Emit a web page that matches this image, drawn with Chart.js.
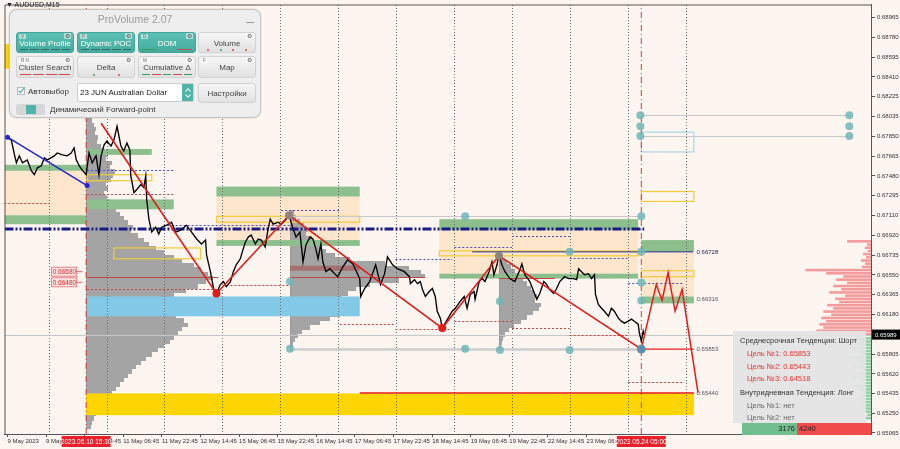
<!DOCTYPE html>
<html><head><meta charset="utf-8">
<script src="https://cdn.jsdelivr.net/npm/chart.js@4/dist/chart.umd.min.js"></script>
<style>
html,body{margin:0;padding:0;background:#fdf5f0;width:900px;height:449px;overflow:hidden;font-family:"Liberation Sans",Arial,sans-serif}
#wrap{position:relative;width:900px;height:449px}
canvas{display:block}
#sym{position:absolute;left:6px;top:1px;font-size:7px;color:#222}
#pv{position:absolute;left:9px;top:9px;width:252px;height:109px;background:#eeeeee;border:1px solid #c4c4c4;border-radius:8px;box-sizing:border-box;box-shadow:0 0 2px rgba(0,0,0,.2)}
#pvt{position:absolute;left:0;right:0;top:3px;text-align:center;font-size:10.5px;color:#9a9a9a}
#pvmin{position:absolute;left:236px;top:12px;width:8px;height:1px;background:#9a9a9a}
.b{position:absolute;width:58px;height:21px;border-radius:3px;background:linear-gradient(#f6f6f6,#e1e1e1);border:1px solid #d2d2d2;box-sizing:border-box;font-size:8px;color:#444;text-align:center}
.b.on{background:linear-gradient(#5cc0b5,#45ab9f);border-color:#43a498;color:#fff}
.b .t{position:absolute;left:0;right:0;top:6px;font-weight:normal;white-space:nowrap}
.b .k{position:absolute;left:2px;top:1px;font-size:4.5px;font-style:normal;color:#666;background:rgba(255,255,255,.55);padding:0 2px;border-radius:1px}
.b .g{position:absolute;right:2px;top:0px;font-size:5.5px;font-style:normal;color:#555;background:rgba(255,255,255,.55);padding:0 1px;border-radius:1px}
.b .d{position:absolute;left:3px;right:3px;bottom:2px;height:1px;display:flex;gap:2px}
.b .d s{flex:1;height:1px;background:#2b6f66;text-decoration:none}
.b .d s.r{background:#d04848}.b .d s.gr{background:#3c9a5a}
.b .p{position:absolute;left:3px;right:3px;bottom:1px;height:2px;display:flex;justify-content:space-around}
.b .p s{width:2px;height:2px;border-radius:1px;background:#d04848}
.b .p s.gr{background:#3c9a5a}
#chk{position:absolute;left:7px;top:77px;width:8px;height:8px;background:#fff;border:1px solid #bbb;box-sizing:border-box}
#chk:after{content:"";position:absolute;left:2px;top:-2px;width:2px;height:6px;border-right:1.3px solid #3aa79b;border-bottom:1.3px solid #3aa79b;transform:rotate(40deg)}
#auto{position:absolute;left:18px;top:77px;font-size:8px;color:#333}
#sel{position:absolute;left:67px;top:73px;width:117px;height:19px;background:#fff;border:1px solid #cfcfcf;box-sizing:border-box;border-radius:2px}
#sel span{position:absolute;left:2px;top:4px;font-size:8px;color:#222;white-space:nowrap}
#sel i{position:absolute;right:0;top:0;width:11px;height:17px;background:#4fb5aa}
#sel i:before,#sel i:after{content:"";position:absolute;left:4px;width:3px;height:3px;border-left:1px solid #fff;border-top:1px solid #fff}
#sel i:before{top:5px;transform:rotate(45deg)}
#sel i:after{top:9px;transform:rotate(225deg)}
#tog{position:absolute;left:6px;top:94px;width:29px;height:11px;border-radius:2px;background:#d6d6d6}
#tog i{position:absolute;left:10px;top:1px;width:10px;height:9px;background:#4fb5aa}
#dyn{position:absolute;left:40px;top:95px;font-size:8px;color:#333;white-space:nowrap}
#info{position:absolute;left:733px;top:331px;width:133px;height:92px;background:rgba(228,228,228,0.95)}
#info div{position:absolute;font-size:7.5px;line-height:9px;white-space:nowrap;color:#333}
#info .r{color:#e23a3a}
#info .n{color:#6a6a6a}
#gbar{position:absolute;left:742px;top:423px;width:55px;height:12px;background:#72be8e;font-size:7.5px;line-height:12px;color:#222;text-align:right;box-sizing:border-box;padding-right:2px}
#rbar{position:absolute;left:797px;top:423px;width:74px;height:12px;background:#f24b4b;font-size:7.5px;line-height:12px;color:#222;box-sizing:border-box;padding-left:2px}
</style></head><body>
<div id="wrap">
<canvas id="c" width="900" height="449"></canvas>
<div id="sym">▼ AUDUSD,M15</div>
<div id="pv">
  <div id="pvt">ProVolume 2.07</div><div id="pvmin"></div>
  <div class="b on" style="left:6px;top:22px"><i class="k">V</i><i class="g">⚙</i><b class="t">Volume Profile</b><em class="d"><s></s><s></s><s></s><s></s><s></s></em></div>
  <div class="b on" style="left:67px;top:22px"><i class="k">P</i><i class="g">⚙</i><b class="t">Dynamic POC</b><em class="d"><s></s><s></s><s></s><s></s><s></s></em></div>
  <div class="b on" style="left:128px;top:22px"><i class="k">D</i><i class="g">⚙</i><b class="t">DOM</b><em class="d"><s class="gr"></s><s style="opacity:0"></s><s class="r"></s></em></div>
  <div class="b" style="left:188px;top:22px"><i class="g">⚙</i><b class="t">Volume</b><em class="p"><s></s><s class="gr"></s><s></s><s></s></em></div>
  <div class="b" style="left:6px;top:46px;height:22px"><i class="k">R N</i><i class="g">⚙</i><b class="t">Cluster Search</b><em class="d"><s class="r"></s><s class="r"></s><s class="r"></s><s class="r"></s></em></div>
  <div class="b" style="left:67px;top:46px;height:22px"><i class="g">⚙</i><b class="t">Delta</b><em class="p"><s class="gr"></s><s></s></em></div>
  <div class="b" style="left:128px;top:46px;height:22px"><i class="k">M</i><i class="g">⚙</i><b class="t">Cumulative Δ</b><em class="d"><s class="gr"></s><s class="r"></s><s class="gr"></s><s class="r"></s><s class="gr"></s></em></div>
  <div class="b" style="left:188px;top:46px;height:22px"><i class="k">F</i><i class="g">⚙</i><b class="t">Map</b></div>
  <div id="chk"></div><div id="auto">Автовыбор</div>
  <div id="sel"><span>23 JUN Australian Dollar</span><i></i></div>
  <div class="b" style="left:188px;top:73px;height:20px"><b class="t" style="top:5px">Настройки</b></div>
  <div id="tog"><i></i></div><div id="dyn">Динамический Forward-point</div>
</div>
<div id="info">
  <div style="left:7px;top:4.5px">Среднесрочная Тенденция: Шорт</div>
  <div class="r" style="left:14px;top:17.5px">Цель №1: 0.65853</div>
  <div class="r" style="left:14px;top:30.5px">Цель №2: 0.65443</div>
  <div class="r" style="left:14px;top:42.5px">Цель №3: 0.64518</div>
  <div style="left:7px;top:56.5px">Внутридневная Тенденция: Лонг</div>
  <div class="n" style="left:14px;top:69.5px">Цель №1: нет</div>
  <div class="n" style="left:14px;top:82px">Цель №2: нет</div>
</div>
<div id="gbar">3176</div><div id="rbar">4240</div>
</div>
<script>
// ---------- axes ----------
const X_MIN = -1.24, X_MAX = 357.9;          // trading hours since 9 May 06:45
const Y_MIN = 0.65055, Y_MAX = 0.69090;
const tickHours = [0,16,32,48,64,80,96,112,128,144,160,176,192,208,224,240];
const tickLabels = ["9 May 2023","9 May 22:45","10 May 14:45","11 May 06:45","11 May 22:45","12 May 14:45","15 May 06:45","15 May 22:45","16 May 14:45","17 May 06:45","17 May 22:45","18 May 14:45","19 May 06:45","19 May 22:45","22 May 14:45","23 May 06:45"];
const gridHours = [17.25,41.25,65.25,89.25,113.25,137.25,161.25,185.25,209.25,233.25,257.25,281.25];
const priceTicks = [0.68965,0.68780,0.68595,0.68410,0.68225,0.68035,0.67850,0.67665,0.67480,0.67295,0.67110,0.66920,0.66735,0.66550,0.66365,0.66180,0.65805,0.65620,0.65435,0.65250,0.65065];
const lastPrice = 0.65989;

// ---------- price series ----------
const priceHours = [0,1.6,2.9,3.7,4.9,6.2,8.2,9.9,11.1,12.4,14.0,15.3,16.5,19.4,20.6,22.7,24.7,26.4,27.6,28.5,29.7,30.9,32.6,33.8,35.1,36.7,37.9,38.8,40.0,41.2,42.9,44.1,45.4,46.2,47.0,48.2,49.5,50.7,51.1,52.4,53.6,55.3,56.5,57.3,57.7,58.6,59.8,61.4,62.7,63.9,66.0,68.0,69.7,71.8,74.2,76.3,78.4,80.4,82.1,82.5,84.1,85.4,86.6,88.2,89.5,90.7,92.4,93.6,94.8,96.5,97.7,98.6,99.8,101.0,102.7,103.9,105.2,106.8,108.0,108.9,110.1,112.2,113.4,115.1,116.7,118.4,119.6,121.2,122.5,123.7,125.4,126.6,127.8,128.7,129.9,130.7,132.0,133.6,134.8,136.9,139.0,141.0,143.1,146.0,146.4,148.0,150.1,152.6,154.6,156.3,157.5,159.6,161.6,164.5,166.6,167.0,168.7,169.9,171.1,172.0,173.2,174.8,176.1,177.3,178.1,179.4,180.2,181.4,183.1,184.3,185.6,187.6,189.3,190.5,191.8,193.4,193.8,195.5,196.7,197.9,199.6,200.8,201.6,202.9,203.7,204.9,206.2,208.2,210.3,212.4,213.2,214.4,216.5,218.1,219.4,220.6,222.3,223.5,224.7,226.4,227.6,228.9,230.9,232.6,234.6,235.9,236.7,237.9,239.2,240.8,242.1,243.3,243.7,244.9,246.2,247.4,249.1,250.3,251.5,253.2,254.4,255.7,257.3,258.6,259.8,261.4,261.9,262.7,263.5,263.9];
const priceClose = [0.67844,0.67816,0.67677,0.67603,0.67668,0.67603,0.67630,0.67528,0.67491,0.67556,0.67575,0.67649,0.67630,0.67668,0.67695,0.67677,0.67668,0.67695,0.67742,0.67630,0.67575,0.67537,0.67491,0.67695,0.67603,0.67668,0.67491,0.67668,0.67770,0.67807,0.67761,0.67816,0.67946,0.67854,0.67761,0.67714,0.67788,0.67723,0.67482,0.67324,0.67352,0.67398,0.67370,0.67482,0.67259,0.67073,0.66952,0.66998,0.66933,0.66998,0.67017,0.67045,0.66952,0.66970,0.67017,0.66952,0.66887,0.66840,0.66877,0.66738,0.66580,0.66422,0.66375,0.66459,0.66487,0.66440,0.66487,0.66580,0.66645,0.66701,0.66794,0.66859,0.66905,0.66924,0.66840,0.66887,0.66877,0.66812,0.66980,0.67073,0.67026,0.67045,0.67026,0.67063,0.67110,0.66980,0.66905,0.66952,0.66673,0.66831,0.66905,0.66887,0.66794,0.66701,0.66840,0.66673,0.66580,0.66608,0.66580,0.66533,0.66626,0.66692,0.66654,0.66515,0.66347,0.66422,0.66487,0.66645,0.66459,0.66561,0.66719,0.66645,0.66608,0.66580,0.66533,0.66468,0.66505,0.66468,0.66487,0.66412,0.66347,0.66394,0.66422,0.66347,0.66208,0.66143,0.66050,0.66096,0.66161,0.66208,0.66236,0.66301,0.66347,0.66236,0.66366,0.66394,0.66320,0.66487,0.66515,0.66487,0.66580,0.66673,0.66552,0.66645,0.66747,0.66645,0.66580,0.66515,0.66487,0.66598,0.66654,0.66552,0.66487,0.66394,0.66320,0.66375,0.66487,0.66459,0.66412,0.66375,0.66422,0.66487,0.66533,0.66515,0.66515,0.66505,0.66608,0.66580,0.66552,0.66561,0.66515,0.66552,0.66366,0.66273,0.66236,0.66208,0.66161,0.66236,0.66208,0.66143,0.66115,0.66096,0.66115,0.66134,0.66115,0.66087,0.66003,0.65929,0.66022,0.65989];

// ---------- zigzag / forecast / trend ----------
const zigzagHours = [38.8,86.6,116.7,180.2,203.7,262.7];
const zigzagPrices = [0.67974,0.66375,0.67110,0.66050,0.66729,0.65853];
const forecastHours = [262.7,268.9,271.3,273.8,276.7,279.6,286.2];
const forecastPrices = [0.65853,0.66459,0.66310,0.66571,0.66208,0.66412,0.65443];
const trendHours = [0,33.0];
const trendPrices = [0.67844,0.67389];
const navyLevel = 0.66980, navyLevelEnd = 263.9;
const levelLines = [[262.7,284.5,0.65853],[146.0,284.5,0.65440]];
const navyShort = [192.6,284.1,0.66766];
const vLines = [32.6,262.7];
const vTags = ["2023.05.10 15:30","2023.05.24 05:00"];

// ---------- zones [h0,h1,pLow,pHigh] ----------
const peachZones = [[-1.3,32.6,0.67110,0.67528],[86.6,146.0,0.66877,0.67286],[179.0,261.4,0.66561,0.66970],[262.7,284.5,0.66347,0.66766]];
const greenZones = [[-1.3,32.6,0.67528,0.67584],[-1.3,32.6,0.67026,0.67110],[33.0,59.8,0.67677,0.67733],[33.0,68.9,0.67166,0.67259],[86.6,146.0,0.67286,0.67379],[86.6,146.0,0.66822,0.66877],[179.0,261.4,0.66970,0.67073],[179.0,261.4,0.66515,0.66561],[262.7,284.5,0.66766,0.66877],[262.7,284.5,0.66282,0.66347]];
const blueZones = [[33.0,146.0,0.66161,0.66347]];
const goldZones = [[32.6,284.5,0.65232,0.65436],[-1.3,2.9,0.68486,0.68718]];
const brownZones = [[117.1,146.0,0.66589,0.66636]];
const yellowBoxes = [[33.0,59.8,0.67435,0.67491],[44.1,80.0,0.66701,0.66803],[86.6,146.0,0.67045,0.67100],[179.0,261.4,0.66729,0.66775],[262.7,284.5,0.66533,0.66589],[262.7,284.5,0.67240,0.67333]];
const cyanBoxes = [[262.7,284.5,0.67705,0.67891]];

// ---------- volume profiles ----------
const profA = {base:32.6, top:0.68021, bin:0.0004, vol:[6,8,10,9,12,11,15,18,22,20,26,24,29,27,25,20,22,18,21,24,27,30,34,38,42,47,45,52,58,63,70,78,88,96,108,115,122,128,120,112,100,88,80,78,82,85,90,98,102,96,92,88,84,78,72,66,60,55,50,46,42,38,34,30,26,20,16,14,12,10,8,6,5]};
const profB = {base:117.1, top:0.67156, bin:0.0004, vol:[4,6,10,14,18,16,22,26,30,36,45,60,95,120,132,136,110,80,66,58,52,48,56,60,50,40,30,20,12,8,5,3,2]};
const profC = {base:203.7, top:0.66729, bin:0.0004, vol:[4,8,12,16,20,24,28,32,35,38,36,42,40,34,28,22,15,10,6,4,3,2]};
const domSell = {top:0.66877, bin:0.0003, vol:[24,4,6,3,8,5,10,6,9,66,45,28,35,24,38,30,42,26,36,32,44,38,48,40,50,45,52,48,55,50]};
const domBuy = {top:0.65966, bin:0.0003, vol:[14,18,12,20,16,10,22,15,12,18,9,14,20,11,8,16,12,7,10,14,6,9,5,8,4,6]};
const VOL_H = 0.41237; // hours of axis per volume unit

// ---------- level segments [h0,h1,price] ----------
const redDotted = [[-1.3,17.3,0.67221],[33.0,68.9,0.67314],[33.0,87.4,0.66413],[92.4,117.1,0.66459],[137.7,160.8,0.66087],[160.8,184.3,0.66041],[185.2,209.1,0.66115],[209.1,233.0,0.66050],[233.0,257.3,0.65985],[257.3,280.4,0.65539]];
const blueDotted = [[33.0,68.9,0.67537],[64.7,117.1,0.67017],[113.4,137.7,0.67156],[160.8,184.3,0.66701],[185.2,209.1,0.66812],[209.1,233.0,0.66915],[233.0,257.3,0.66710],[257.3,280.4,0.66478]];
const grayLines = [[262.7,348.9,0.68049],[262.7,348.9,0.67854],[115.5,262.7,0.67100]];
const grayThick = [[117.1,262.7,0.65855]];
const pocLines = [[33.0,87.4,0.66529],[117.1,173.2,0.66529],[203.7,226.8,0.66524]];
const tealPts = [[262.3,0.68049],[262.3,0.67946],[262.3,0.67854],[348.9,0.68049],[348.9,0.67946],[348.9,0.67854],[262.7,0.67100],[262.7,0.66766],[262.7,0.66478],[262.7,0.66310],[189.7,0.67100],[189.7,0.65855],[117.1,0.66487],[117.1,0.65855],[204.1,0.66301],[204.1,0.65845],[233.0,0.66766],[233.0,0.65845]];
const sideLabels = [["0.66728",0.66766],["0.66316",0.66320],["0.65853",0.65853],["0.65440",0.65440]];
const sideLabelHour = 285.6;
const pinkLabels = [["0.66580",0.66580],["0.66480",0.66480]];
const pinkLabelHours = [18.1,28.5,31.0];

Chart.defaults.font.family = "'Liberation Sans', Arial, sans-serif";

function pts(xs, ys){ return xs.map((x,i)=>({x:x, y:ys[i]})); }

const mt4 = {
  id:'mt4',
  beforeDraw(ch){
    const c = ch.ctx, X = v=>ch.scales.x.getPixelForValue(v), Y = v=>ch.scales.y.getPixelForValue(v);
    const ca = ch.chartArea;
    c.save();
    c.fillStyle = '#fdf5f0'; c.fillRect(0,0,ch.width,ch.height);
    c.beginPath(); c.rect(ca.left,ca.top,ca.right-ca.left,ca.bottom-ca.top); c.clip();
    const zone = (z,col)=>{ const x0=X(z[0]),x1=X(z[1]),y0=Y(z[3]),y1=Y(z[2]); c.fillStyle=col; c.fillRect(x0,y0,x1-x0,y1-y0); };
    peachZones.forEach(z=>zone(z,'#fde6cc'));
    const prof = (p,col)=>{
      c.fillStyle=col;
      p.vol.forEach((v,i)=>{ const yT=Math.round(Y(p.top-i*p.bin)), yB=Math.round(Y(p.top-(i+1)*p.bin)); const x0=Math.round(X(p.base)), x1=Math.round(X(p.base+v*VOL_H));
        c.fillRect(x0,yT,x1-x0,yB-yT); });
      c.strokeStyle='#9a9a9a'; c.lineWidth=1; c.beginPath(); c.moveTo(Math.round(X(p.base))+0.5,Y(p.top)); c.lineTo(Math.round(X(p.base))+0.5,Y(p.top-p.vol.length*p.bin)); c.stroke();
    };
    [profA,profB,profC].forEach(p=>prof(p,'#a4a4a4'));
    brownZones.forEach(z=>zone(z,'rgba(165,70,70,0.55)'));
    greenZones.forEach(z=>zone(z,'#8dbf8d'));
    blueZones.forEach(z=>zone(z,'#82c9e8'));
    goldZones.forEach(z=>zone(z,'#ffd500'));
    c.lineWidth=1.2;
    yellowBoxes.forEach(z=>{ c.strokeStyle='#f2cc3a'; c.strokeRect(X(z[0]),Y(z[3]),X(z[1])-X(z[0]),Y(z[2])-Y(z[3])); });
    cyanBoxes.forEach(z=>{ c.strokeStyle='#a8d6e6'; c.strokeRect(X(z[0]),Y(z[3]),X(z[1])-X(z[0]),Y(z[2])-Y(z[3])); });
    const dom = (d,col)=>{ d.vol.forEach((v,i)=>{ const yT=Y(d.top-i*d.bin), yB=Y(d.top-(i+1)*d.bin); const x1=X(X_MAX), x0=X(X_MAX-v*VOL_H); c.fillStyle=col; c.fillRect(x0,yT,x1-x0,(yB-yT)*0.8); }); };
    dom(domSell,'#f39a9a'); dom(domBuy,'#8fcfa6');
    c.restore();
  },
  beforeDatasetsDraw(ch){
    const c = ch.ctx, X = v=>ch.scales.x.getPixelForValue(v), Y = v=>ch.scales.y.getPixelForValue(v);
    const ca = ch.chartArea;
    c.save(); c.beginPath(); c.rect(ca.left,ca.top,ca.right-ca.left,ca.bottom-ca.top); c.clip();
    const seg = (s,col,w,dash)=>{ c.strokeStyle=col; c.lineWidth=w; c.setLineDash(dash); const y=Math.round(Y(s[2]))+0.5; c.beginPath(); c.moveTo(X(s[0]),y); c.lineTo(X(s[1]),y); c.stroke(); };
    seg([X_MIN,X_MAX,lastPrice],'#c6c6c6',1,[]);
    grayLines.forEach(s=>seg(s,'#c8c8c8',1,[]));
    grayThick.forEach(s=>seg(s,'#cdcdcd',2.5,[]));
    redDotted.forEach(s=>seg(s,'#c84040',1,[2,2]));
    blueDotted.forEach(s=>seg(s,'#4a4ac8',1,[2,2]));
    pocLines.forEach(s=>seg(s,'#c04545',1,[]));
    c.restore();
  },
  afterDraw(ch){
    const c = ch.ctx, X = v=>ch.scales.x.getPixelForValue(v), Y = v=>ch.scales.y.getPixelForValue(v);
    const ca = ch.chartArea;
    c.save();
    c.strokeStyle='#555'; c.lineWidth=1; c.setLineDash([]);
    c.beginPath(); c.moveTo(ca.left+0.5,ca.bottom); c.lineTo(ca.left+0.5,ca.top+0.5); c.lineTo(ca.right,ca.top+0.5); c.stroke();
    c.font='6px "Liberation Sans"'; c.textBaseline='middle'; c.textAlign='left';
    sideLabels.forEach(l=>{ c.fillStyle = l[0]==='0.66728' ? '#20205a' : '#555'; c.fillText(l[0], X(sideLabelHour), Y(l[1])); });
    c.font='6.5px "Liberation Sans"';
    pinkLabels.forEach(l=>{ const x0=X(pinkLabelHours[0]), x1=X(pinkLabelHours[1]), y=Y(l[1]);
      c.fillStyle='#fde3e3'; c.fillRect(x0,y-4.5,x1-x0,9); c.strokeStyle='#e06a6a'; c.lineWidth=0.8; c.strokeRect(x0+0.5,y-4.5,x1-x0,9);
      c.fillStyle='#d83030'; c.fillText(l[0], x0+1.5, y+0.5);
      c.strokeStyle='#e04040'; c.beginPath(); c.moveTo(x1,y); c.lineTo(X(pinkLabelHours[2]),y); c.stroke(); });
    c.font='6.5px "Liberation Sans"'; c.textAlign='center';
    vLines.forEach((h,i)=>{ const x=X(h); c.fillStyle='#e8202a'; c.fillRect(x-24.5,ca.bottom+2,49,11); c.fillStyle='#fff'; c.fillText(vTags[i], x, ca.bottom+8); });
    const yp=Y(lastPrice); c.fillStyle='#000'; c.fillRect(ca.right+1,yp-5,28,10); c.fillStyle='#fff'; c.font='6px "Liberation Sans"'; c.textAlign='left'; c.fillText(lastPrice.toFixed(5), ca.right+4, yp+0.5);
    c.restore();
  }
};

const vLineSets = vLines.map(h=>({type:'line', data:[{x:h,y:Y_MIN},{x:h,y:Y_MAX}], borderColor:'#d83a3a', borderWidth:1, borderDash:[6,3,1,3], pointRadius:0, order:5}));

new Chart(document.getElementById('c'), {
  type:'line',
  data:{ datasets:[
    {data:pts(priceHours,priceClose), borderColor:'#000', borderWidth:1.35, pointRadius:0, order:2},
    {data:pts(zigzagHours,zigzagPrices), borderColor:'#e31b1b', borderWidth:1.6, pointRadius:[0,4,4,4,4,4.5], pointBorderWidth:0, pointBackgroundColor:['#e31b1b','#e31b1b','#8f8580','#e31b1b','#8f8580','#5f8fae'], order:1},
    {data:pts(forecastHours,forecastPrices), borderColor:'#e31b1b', borderWidth:1.5, pointRadius:0, order:1},
    {data:pts(trendHours,trendPrices), borderColor:'#2424d0', borderWidth:1.5, pointRadius:2.5, pointBorderWidth:0, pointBackgroundColor:'#2424d0', order:1},
    {data:[{x:X_MIN,y:navyLevel},{x:navyLevelEnd,y:navyLevel}], borderColor:'#1b1b86', borderWidth:3, borderDash:[9,2,2,2,2,2], pointRadius:0, order:3},
    ...levelLines.map(l=>({data:[{x:l[0],y:l[2]},{x:l[1],y:l[2]}], borderColor:'#e31b1b', borderWidth:1.3, pointRadius:0, order:3})),
    {data:[{x:navyShort[0],y:navyShort[2]},{x:navyShort[1],y:navyShort[2]}], borderColor:'#2a2a8a', borderWidth:1, pointRadius:0, order:3},
    {data:tealPts.map(p=>({x:p[0],y:p[1]})), showLine:false, pointRadius:4, pointBorderWidth:0, pointBackgroundColor:'rgba(112,182,182,0.85)', order:0},
    ...vLineSets
  ]},
  options:{
    responsive:false, animation:false, devicePixelRatio:1,
    layout:{padding:0},
    plugins:{legend:{display:false}, tooltip:{enabled:false}},
    elements:{line:{tension:0}},
    scales:{
      x:{type:'linear', position:'bottom', min:X_MIN, max:X_MAX,
        afterBuildTicks:s=>{ s.ticks = tickHours.map(v=>({value:v})); },
        afterFit:s=>{ s.height=15; s.paddingLeft=0; s.paddingRight=0; },
        ticks:{autoSkip:false, maxRotation:0, minRotation:0, align:'start', padding:1, color:'#333', font:{size:6}, callback:(v,i)=>tickLabels[i]},
        grid:{drawOnChartArea:false, tickLength:3, color:'#555'},
        border:{display:true, color:'#555'}},
      xg:{type:'linear', position:'top', min:X_MIN, max:X_MAX,
        afterBuildTicks:s=>{ s.ticks = gridHours.map(v=>({value:v})); },
        afterFit:s=>{ s.height=0; s.paddingLeft=0; s.paddingRight=0; },
        ticks:{display:false},
        grid:{drawOnChartArea:true, drawTicks:false, tickLength:0, color:'#6a6a6a', lineWidth:1},
        border:{display:false, dash:[1,2]}},
      y:{type:'linear', position:'right', min:Y_MIN, max:Y_MAX,
        afterBuildTicks:s=>{ s.ticks = priceTicks.map(v=>({value:v})); },
        afterFit:s=>{ s.width=29; s.paddingTop=0; s.paddingBottom=0; },
        ticks:{color:'#333', font:{size:6}, padding:2, callback:v=>v.toFixed(5)},
        grid:{drawOnChartArea:false, tickLength:4, color:'#555'},
        border:{display:true, color:'#555'}}
    }
  },
  plugins:[mt4]
});
</script>
</body></html>
